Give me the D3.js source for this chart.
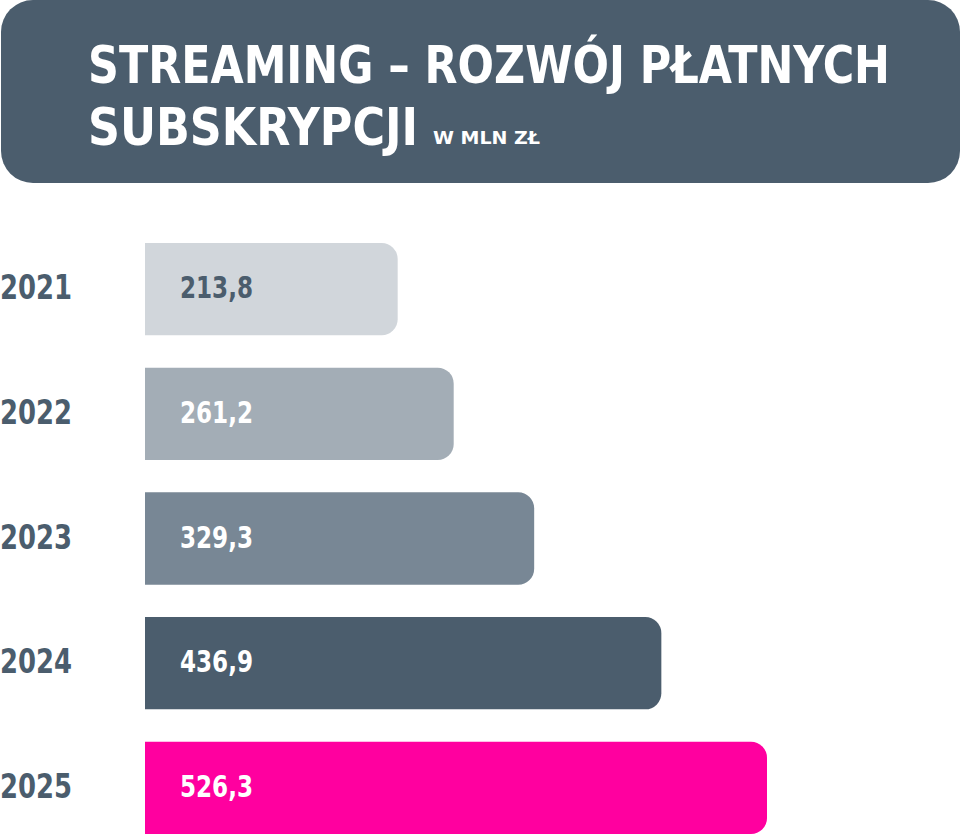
<!DOCTYPE html>
<html>
<head>
<meta charset="utf-8">
<script src="https://cdn.jsdelivr.net/npm/d3@7"></script>
<style>
  body { margin: 0; background: #fff; }
  text { font-family: "DejaVu Sans Condensed", "DejaVu Sans", sans-serif; font-weight: bold; }
</style>
</head>
<body>
<div id="chart"></div>
<script>
// Chart data
var years = ["2021", "2022", "2023", "2024", "2025"];
var values = [213.8, 261.2, 329.3, 436.9, 526.3];
var valueLabels = ["213,8", "261,2", "329,3", "436,9", "526,3"];
var barColors = ["#d1d6db", "#a3adb6", "#788795", "#4b5d6d", "#ff009f"];
var labelColors = ["#4b5d6d", "#ffffff", "#ffffff", "#ffffff", "#ffffff"];
var titleLines = ["STREAMING – ROZWÓJ PŁATNYCH", "SUBSKRYPCJI"];
var unitLabel = "W MLN ZŁ";

var svgWidth = 960;
var svgHeight = 835;
var headColor = "#4b5d6d";

var svg = d3.select("#chart")
    .append("svg")
    .attr("width", svgWidth)
    .attr("height", svgHeight);

// header box
svg.append("rect")
    .attr("x", 1)
    .attr("y", 0)
    .attr("width", 959)
    .attr("height", 183)
    .attr("rx", 32)
    .attr("fill", headColor);

svg.append("text")
    .attr("x", 88)
    .attr("y", 83)
    .attr("font-size", 51)
    .attr("fill", "#fff")
    .attr("textLength", 802)
    .attr("lengthAdjust", "spacingAndGlyphs")
    .text(titleLines[0]);

svg.append("text")
    .attr("x", 88)
    .attr("y", 145)
    .attr("font-size", 51)
    .attr("fill", "#fff")
    .attr("textLength", 330)
    .attr("lengthAdjust", "spacingAndGlyphs")
    .text(titleLines[1]);

svg.append("text")
    .attr("x", 433)
    .attr("y", 144)
    .attr("font-size", 18)
    .attr("fill", "#fff")
    .attr("textLength", 107)
    .attr("lengthAdjust", "spacingAndGlyphs")
    .text(unitLabel);

// scales
var xScale = d3.scaleLinear()
    .domain([0, 526.3])
    .range([145, 767]);

var yScale = d3.scaleBand()
    .domain(years)
    .range([243, 834])
    .paddingInner(0.26)
    .paddingOuter(0);

var data = years.map(function(y, i) {
    return { year: y, value: values[i], label: valueLabels[i], color: barColors[i], textColor: labelColors[i] };
});

// bar path: flat left, rounded right corners
function barPath(d) {
    var x0 = xScale(0), x1 = xScale(d.value);
    var y0 = yScale(d.year), h = yScale.bandwidth();
    var r = 16;
    var p = d3.path();
    p.moveTo(x0, y0);
    p.lineTo(x1 - r, y0);
    p.arcTo(x1, y0, x1, y0 + r, r);
    p.lineTo(x1, y0 + h - r);
    p.arcTo(x1, y0 + h, x1 - r, y0 + h, r);
    p.lineTo(x0, y0 + h);
    p.closePath();
    return p.toString();
}

var rows = svg.selectAll(".row")
    .data(data)
    .enter()
    .append("g")
    .attr("class", "row");

rows.append("path")
    .attr("d", barPath)
    .attr("fill", d => d.color);

rows.append("text")
    .attr("x", 0)
    .attr("y", d => yScale(d.year) + yScale.bandwidth() / 2 + 10)
    .attr("font-size", 34)
    .attr("fill", headColor)
    .attr("textLength", 72)
    .attr("lengthAdjust", "spacingAndGlyphs")
    .text(d => d.year);

rows.append("text")
    .attr("x", 180)
    .attr("y", d => yScale(d.year) + yScale.bandwidth() / 2 + 9)
    .attr("font-size", 30)
    .attr("fill", d => d.textColor)
    .attr("textLength", 73)
    .attr("lengthAdjust", "spacingAndGlyphs")
    .text(d => d.label);
</script>
</body>
</html>
